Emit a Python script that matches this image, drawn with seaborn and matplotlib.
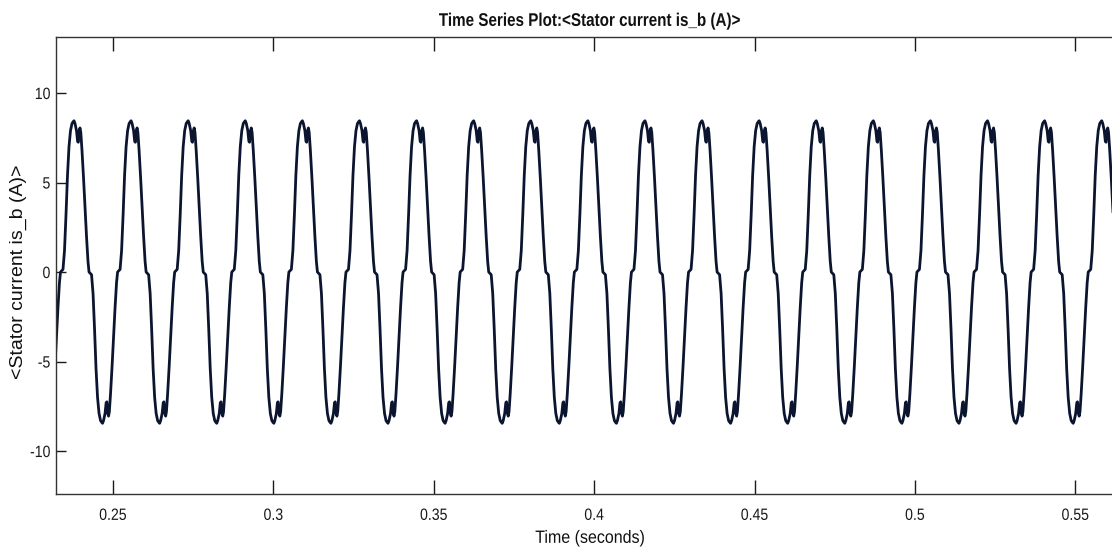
import numpy as np
import pandas as pd
import matplotlib
matplotlib.use("Agg")
import matplotlib.pyplot as plt
import seaborn as sns
from matplotlib.patheffects import AbstractPathEffect
from matplotlib.transforms import Affine2D

# One positive half-wave of the phase-b stator current (offsets in ms from the crest).
half_wave_offset_ms = [-4.21, -3.43, -2.96, -2.49, -2.03, -1.56, -1.09, -0.62, -0.25, 0.0,
                       0.31, 0.78, 1.12, 1.34, 1.62, 1.87, 2.12, 2.49, 2.96, 3.43, 3.90, 4.36]
half_wave_current = [0.0, 0.15, 1.2, 3.2, 5.4, 7.0, 7.9, 8.3, 8.4, 8.45,
                     8.3, 7.9, 7.3, 7.25, 7.9, 8.05, 7.8, 6.8, 5.3, 3.6, 2.0, 0.6]

period_s = 0.0178          # electrical period of the current
first_crest_s = 0.23784    # time of the first positive crest
cycle_index = list(range(-1, 19))

x_ticks = [0.25, 0.30, 0.35, 0.40, 0.45, 0.50, 0.55]
x_tick_labels = ["0.25", "0.3", "0.35", "0.4", "0.45", "0.5", "0.55"]
y_ticks = [-10, -5, 0, 5, 10]
y_tick_labels = ["-10", "-5", "0", "5", "10"]

title_text = "Time Series Plot:<Stator current is_b (A)>"
x_label = "Time (seconds)"
y_label = "<Stator current is_b (A)>"


class Squeeze(AbstractPathEffect):
    """Narrow a text path along its reading direction, about a chosen anchor."""

    def __init__(self, sx, anchor="center"):
        super().__init__()
        self.sx = sx
        self.anchor = anchor

    def draw_path(self, renderer, gc, tpath, affine, rgbFace=None):
        xs = tpath.vertices[:, 0] if len(tpath.vertices) else np.array([0.0])
        if self.anchor == "right":
            cx = xs.max()
        elif self.anchor == "left":
            cx = xs.min()
        else:
            cx = 0.5 * (xs.min() + xs.max())
        squeeze = Affine2D().translate(-cx, 0).scale(self.sx, 1.0).translate(cx, 0)
        renderer.draw_path(gc, tpath, squeeze + affine, rgbFace)


# Assemble the waveform: positive half-wave then its mirrored negative half each cycle
offsets = np.array(half_wave_offset_ms) / 1000.0
values = np.array(half_wave_current)
times, currents = [], []
for k in cycle_index:
    crest = first_crest_s + k * period_s
    times.extend(crest + offsets)
    currents.extend(values)
    times.extend(crest + period_s / 2 + offsets)
    currents.extend(-values)
df = pd.DataFrame({"time": times, "current": currents}).sort_values("time")

sns.set_theme(style="white")
plt.rcParams["font.family"] = ["Liberation Sans", "DejaVu Sans"]

fig = plt.figure(figsize=(11.12, 5.52), dpi=100)
ax = fig.add_axes([56 / 1112, 58 / 552, 1068 / 1112, 457 / 552])

sns.lineplot(data=df, x="time", y="current", ax=ax, estimator=None, sort=False,
             color="#0b1530", linewidth=2.0)

ax.set_xlim(0.23223, 0.56518)
ax.set_ylim(-12.40, 13.13)
ax.set_xticks(x_ticks)
xt = ax.set_xticklabels(x_tick_labels, fontsize=11.8)
ax.set_yticks(y_ticks)
yt = ax.set_yticklabels(y_tick_labels, fontsize=11.8)
for t in xt:
    t.set_path_effects([Squeeze(0.86, "center")])
for t in yt:
    t.set_path_effects([Squeeze(0.86, "right")])

ax.tick_params(axis="x", direction="in", length=10, width=1.0, top=True, bottom=True,
               pad=10, colors="#1a1a1a")
ax.tick_params(axis="y", direction="in", length=7.5, width=1.0, left=True, right=True,
               pad=4, colors="#1a1a1a")
for s in ax.spines.values():
    s.set_visible(True)
    s.set_color("#333333")
    s.set_linewidth(1.0)

ax.set_xlabel(x_label, fontsize=12.8, color="#111111", labelpad=5)
ax.xaxis.label.set_path_effects([Squeeze(0.9, "center")])
ax.set_ylabel(y_label, fontsize=14, color="#111111")
ax.yaxis.set_label_coords(-0.027, 0.486)
ttl = ax.set_title(title_text, fontweight="bold", fontsize=13.2, color="#111111", pad=8)
ttl.set_path_effects([Squeeze(0.83, "center")])

fig.savefig("out.png", dpi=100)
